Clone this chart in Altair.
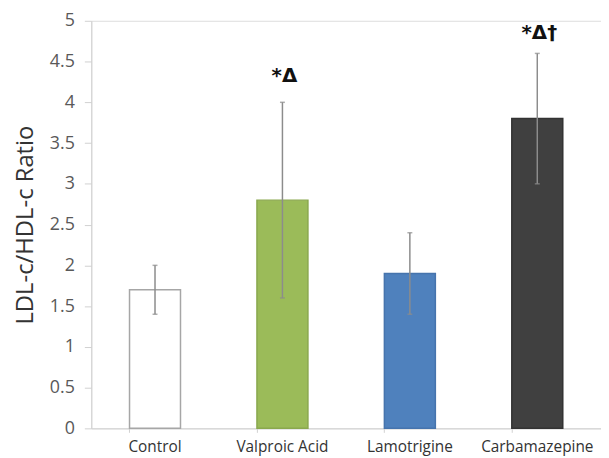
import altair as alt
import pandas as pd

categories = ["Control", "Valproic Acid", "Lamotrigine", "Carbamazepine"]
means = [1.7, 2.8, 1.9, 3.8]
lower = [1.4, 1.6, 1.4, 3.0]
upper = [2.0, 4.0, 2.4, 4.6]
fills = ["#ffffff", "#9bbb59", "#4f81bd", "#404040"]
strokes = ["#a6a6a6", "#8aa84e", "#4674ad", "#333333"]
marks_text = ["", "*Δ", "", "*Δ†"]
marks_y = [0, 4.32, 0, 4.85]

df = pd.DataFrame({
    "cat": categories, "mean": means, "lo": lower, "hi": upper,
    "fill": fills, "stroke": strokes, "sig": marks_text, "sigy": marks_y,
})

xenc = alt.X("cat:N", sort=categories, title=None,
             scale=alt.Scale(paddingInner=0.6, paddingOuter=0.3),
             axis=alt.Axis(labelAngle=0, labelFontSize=15.5, labelColor="#333333",
                           labelFont="Open Sans", labelPadding=7, bandPosition=0,
                           tickColor="#d0d0d0", tickSize=4, domainColor="#d0d0d0",
                           labelAlign="center", labelBaseline="top"))

yscale = alt.Scale(domain=[0, 5], nice=False)

bars = alt.Chart(df).mark_bar(strokeWidth=1.5).encode(
    x=xenc,
    y=alt.Y("mean:Q", scale=yscale, title="LDL-c/HDL-c Ratio",
            axis=alt.Axis(values=[0, 0.5, 1, 1.5, 2, 2.5, 3, 3.5, 4, 4.5, 5],
                          format="~g",
                          grid=False, labelFontSize=18, labelColor="#595959",
                          labelFont="Open Sans", titleFont="Open Sans",
                          titleFontSize=24, titleFontWeight="normal",
                          titleColor="#333333", tickColor="#d0d0d0", tickSize=7,
                          domainColor="#d0d0d0", labelPadding=10, titlePadding=12)),
    fill=alt.Fill("fill:N", scale=None),
    stroke=alt.Stroke("stroke:N", scale=None),
)

err = alt.Chart(df).mark_rule(color="#8c8c8c", strokeWidth=1.5).encode(
    x=alt.X("cat:N", sort=categories), y="lo:Q", y2="hi:Q")
cap_hi = alt.Chart(df).mark_tick(color="#8c8c8c", size=5, thickness=1.5).encode(
    x=alt.X("cat:N", sort=categories), y="hi:Q")
cap_lo = alt.Chart(df).mark_tick(color="#8c8c8c", size=5, thickness=1.5).encode(
    x=alt.X("cat:N", sort=categories), y="lo:Q")

txt = alt.Chart(df).transform_filter("datum.sig != ''").mark_text(
    fontSize=20, fontWeight="bold", color="#111111", font="DejaVu Sans", dx=2).encode(
    x=alt.X("cat:N", sort=categories), y="sigy:Q", text="sig:N")

chart = alt.layer(bars, err, cap_hi, cap_lo, txt).properties(
    width=514, height=411,
    autosize=alt.AutoSizeParams(type="none"),
    padding={"left": 84, "top": 11, "right": 0, "bottom": 30},
).configure_view(stroke=None).configure(background="white")

chart.save("out.html", embed_options={"renderer": "svg", "actions": False})
